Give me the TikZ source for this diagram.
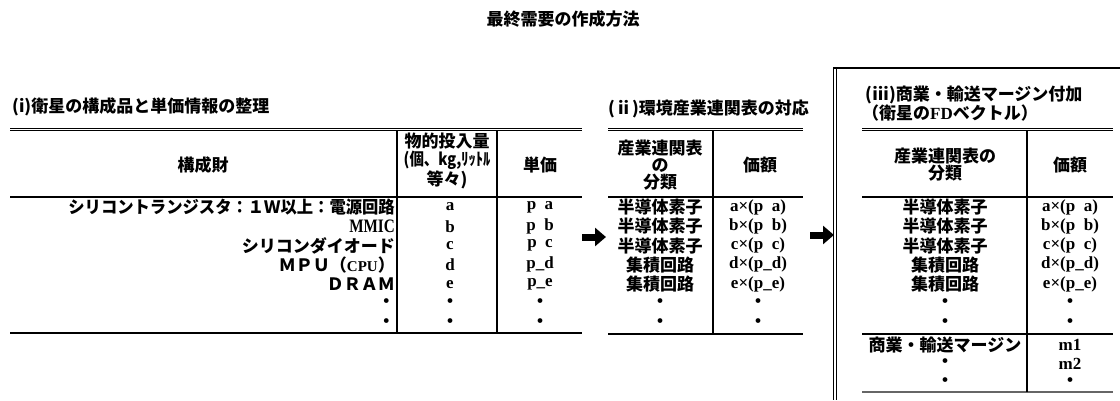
\documentclass[tikz,border=0pt]{standalone}
\usepackage{fontspec}
\usetikzlibrary{arrows.meta}
\newfontfamily\jp{Noto Sans CJK JP}
\newfontfamily\latf{Liberation Serif}[BoldFont={Liberation Serif Bold}]
\tikzset{
  jt/.style={font=\jp\bfseries\fontsize{17}{18}\selectfont, inner sep=0pt, align=center},
  lt/.style={font=\latf\bfseries\fontsize{17}{18}\selectfont, inner sep=0pt},
  hd/.style={font=\jp\bfseries\fontsize{17}{19}\selectfont, inner sep=0pt, anchor=west},
  rt/.style={jt, anchor=east},
  dbl/.style={double, double distance=1.5pt, line width=1pt},
  dblv/.style={double, double distance=2.2pt, line width=1.1pt},
  rulethick/.style={line width=2pt},
  rulethin/.style={line width=1.4pt},
  rulegray/.style={line width=1.6pt, black!60},
  vr/.style={line width=1.3pt},
  blk/.style={line width=7pt, -{Triangle[length=11pt,width=18pt]}}
}
\newcommand{\usp}{\phantom{\_}}
\begin{document}
\begin{tikzpicture}[x=1pt,y=-1pt]
\useasboundingbox (0,0) rectangle (1120,400);

% title
\node[jt] (title) at (563,19) {最終需要の作成方法};

% ---------------- table 1 ----------------
\node[hd] (h1) at (12,107) {(i)衛星の構成品と単価情報の整理};
\coordinate (t1a) at (10,129.5); \coordinate (t1b) at (582,129.5);
\coordinate (t1c) at (10,197);   \coordinate (t1d) at (582,197);
\coordinate (t1e) at (10,333);   \coordinate (t1f) at (582,333);
\coordinate (t1g) at (397,131);  \coordinate (t1h) at (397,333);
\coordinate (t1i) at (497,131);  \coordinate (t1j) at (497,333);
\draw[dbl] (t1a) -- (t1b);
\draw[rulethick] (t1c) -- (t1d);
\draw[rulethick] (t1e) -- (t1f);
\draw[vr] (t1g) -- (t1h);
\draw[vr] (t1i) -- (t1j);

\node[jt] (c1h) at (203,165) {構成財};
\node[jt] (c2h) at (447,161) {物的投入量\\\scalebox{0.85}[1]{(個、kg,ﾘｯﾄﾙ}\\等々)};
\node[jt] (c3h) at (540,165) {単価};

\node[rt] (r11) at (395,207) {\scalebox{0.96}[1]{シリコントランジスタ：１Ｗ以上：電源回路}};
\node[lt, anchor=east, font=\latf\bfseries\fontsize{19}{20}\selectfont, xscale=0.8] (r12) at (395,226.3) {MMIC};
\node[rt] (r13) at (395,245.6) {シリコンダイオード};
\node[rt] (r14) at (395,264.9) {ＭＰＵ（{\latf\bfseries\fontsize{15}{16}\selectfont CPU}）};
\node[rt] (r15) at (395,284.2) {ＤＲＡＭ};
\node[rt] (r16) at (395,303.5) {・};
\node[rt] (r17) at (395,322.8) {・};

\node[lt] (q1) at (450,207) {a};
\node[lt] (q2) at (450,226.3) {b};
\node[lt] (q3) at (450,245.6) {c};
\node[lt] (q4) at (450,264.9) {d};
\node[lt] (q5) at (450,284.2) {e};
\node[jt] (q6) at (450,303.5) {・};
\node[jt] (q7) at (450,322.8) {・};

\node[lt] (p1) at (540,207) {p\usp a};
\node[lt] (p2) at (540,226.3) {p\usp b};
\node[lt] (p3) at (540,245.6) {p\usp c};
\node[lt] (p4) at (540,264.9) {p\_d};
\node[lt] (p5) at (540,284.2) {p\_e};
\node[jt] (p6) at (540,303.5) {・};
\node[jt] (p7) at (540,322.8) {・};

% arrow 1
\coordinate (a1s) at (582,237); \coordinate (a1e) at (606,237);
\draw[blk] (a1s) -- (a1e);

% ---------------- table 2 ----------------
\node[hd] (h2) at (608,109) {(ⅱ)環境産業連関表の対応};
\coordinate (t2a) at (608,129.5); \coordinate (t2b) at (803,129.5);
\coordinate (t2c) at (608,197);   \coordinate (t2d) at (803,197);
\coordinate (t2e) at (608,334);   \coordinate (t2f) at (803,334);
\coordinate (t2g) at (713,131);   \coordinate (t2h) at (713,334);
\draw[dbl] (t2a) -- (t2b);
\draw[rulethick] (t2c) -- (t2d);
\draw[rulethick] (t2e) -- (t2f);
\draw[vr] (t2g) -- (t2h);

\node[jt, font=\jp\bfseries\fontsize{17}{17}\selectfont] (d1h) at (660,165) {産業連関表\\の\\分類};
\node[jt] (d2h) at (760,165) {価額};

\node[jt] (s1) at (660,207) {半導体素子};
\node[jt] (s2) at (660,226.3) {半導体素子};
\node[jt] (s3) at (660,245.6) {半導体素子};
\node[jt] (s4) at (660,264.9) {集積回路};
\node[jt] (s5) at (660,284.2) {集積回路};
\node[jt] (s6) at (660,303.5) {・};
\node[jt] (s7) at (660,322.8) {・};

\node[lt] (v1) at (758,207) {a×(p\usp a)};
\node[lt] (v2) at (758,226.3) {b×(p\usp b)};
\node[lt] (v3) at (758,245.6) {c×(p\usp c)};
\node[lt] (v4) at (758,264.9) {d×(p\_d)};
\node[lt] (v5) at (758,284.2) {e×(p\_e)};
\node[jt] (v6) at (758,303.5) {・};
\node[jt] (v7) at (758,322.8) {・};

% arrow 2
\coordinate (a2s) at (810,235); \coordinate (a2e) at (834,235);
\draw[blk] (a2s) -- (a2e);

% ---------------- table 3 ----------------
\coordinate (b3a) at (835,68);  \coordinate (b3b) at (835,400);
\coordinate (b3c) at (833,68);  \coordinate (b3d) at (1120,68);
\draw[dblv] (b3a) -- (b3b);
\draw[vr] (b3c) -- (b3d);

\node[hd] (h3a) at (865,95) {(ⅲ)商業・輸送マージン付加};
\node[hd] (h3b) at (862,113) {（衛星の{\latf\bfseries\fontsize{17}{18}\selectfont FD}ベクトル）};

\coordinate (t3a) at (862,129.5); \coordinate (t3b) at (1113,129.5);
\coordinate (t3c) at (862,197);   \coordinate (t3d) at (1113,197);
\coordinate (t3e) at (862,334);   \coordinate (t3f) at (1113,334);
\coordinate (t3k) at (862,392);   \coordinate (t3l) at (1113,392);
\coordinate (t3g) at (1027,131);  \coordinate (t3h) at (1027,392);
\draw[dbl] (t3a) -- (t3b);
\draw[rulethick] (t3c) -- (t3d);
\draw[rulethin] (t3e) -- (t3f);
\draw[rulegray] (t3k) -- (t3l);
\draw[vr] (t3g) -- (t3h);

\node[jt, font=\jp\bfseries\fontsize{17}{16}\selectfont] (e1h) at (945,165) {産業連関表の\\分類};
\node[jt] (e2h) at (1070,165) {価額};

\node[jt] (u1) at (945,207) {半導体素子};
\node[jt] (u2) at (945,226.3) {半導体素子};
\node[jt] (u3) at (945,245.6) {半導体素子};
\node[jt] (u4) at (945,264.9) {集積回路};
\node[jt] (u5) at (945,284.2) {集積回路};
\node[jt] (u6) at (945,303.5) {・};
\node[jt] (u7) at (945,322.8) {・};
\node[jt] (u8) at (945,345) {商業・輸送マージン};
\node[jt] (u9) at (945,363.5) {・};
\node[jt] (u10) at (945,382) {・};

\node[lt] (w1) at (1070,207) {a×(p\usp a)};
\node[lt] (w2) at (1070,226.3) {b×(p\usp b)};
\node[lt] (w3) at (1070,245.6) {c×(p\usp c)};
\node[lt] (w4) at (1070,264.9) {d×(p\_d)};
\node[lt] (w5) at (1070,284.2) {e×(p\_e)};
\node[jt] (w6) at (1070,303.5) {・};
\node[jt] (w7) at (1070,322.8) {・};
\node[lt] (w8) at (1070,345) {m1};
\node[lt] (w9) at (1070,363.5) {m2};
\node[jt] (w10) at (1070,382) {・};
\end{tikzpicture}
\end{document}
